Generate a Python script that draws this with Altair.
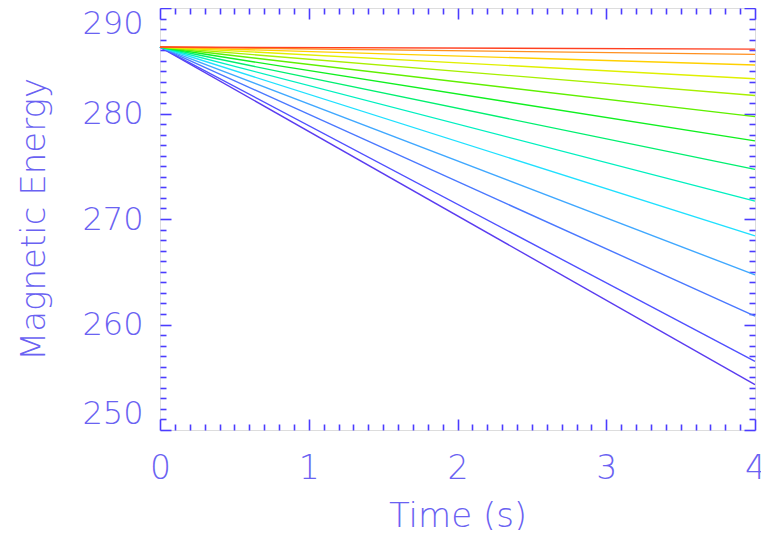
import altair as alt
import pandas as pd

# Data
times = [0.0, 4.0]
start_value = 286.3
end_values = [254.3, 256.5, 260.8, 264.7, 268.4, 271.7, 274.7,
              277.4, 279.7, 281.7, 283.3, 284.6, 285.6, 286.1]
line_colors = ["#5a3cf0", "#5050ff", "#4a78ff", "#40a8ff", "#20e0ff", "#00f0c0",
               "#00f070", "#10f020", "#60f000", "#a8f000", "#e0f000", "#ffd000",
               "#ff9020", "#ff4020"]
series_names = [f"s{i:02d}" for i in range(len(end_values))]

x_major = [0, 1, 2, 3, 4]
x_minor = [i / 10 for i in range(41) if i % 10 != 0]
y_major = [250, 260, 270, 280, 290]
y_minor = [v for v in range(250, 291) if v % 10 != 0]

rows = []
for name, ev in zip(series_names, end_values):
    rows.append({"series": name, "t": times[0], "energy": start_value})
    rows.append({"series": name, "t": times[1], "energy": ev})
df = pd.DataFrame(rows)

AX = "#4b3cff"
TXT = "#6a62f2"
FONT = "DejaVu Sans"

xscale = alt.Scale(domain=[0, 4], nice=False, zero=False)
yscale = alt.Scale(domain=[250, 290], nice=False, zero=False)


def tick_axis(orient, values, size):
    return alt.Axis(orient=orient, values=values, tickSize=size, offset=-size,
                    labels=False, domain=False, title=None, ticks=True,
                    tickColor=AX, tickWidth=1.6, grid=False)


lines = alt.Chart(df).mark_line(strokeWidth=1.4).encode(
    x=alt.X("t:Q", scale=xscale,
            axis=alt.Axis(orient="bottom", values=x_major, ticks=False, domain=False,
                          grid=False, title="Time  (s)", labelFont=FONT, labelFontSize=33,
                          labelFontWeight=200, labelFlush=False,
                          labelColor=TXT, labelPadding=22, titleFont=FONT, titleFontSize=34,
                          titleFontWeight=200, titleColor=TXT, titlePadding=14,
                          format="d")),
    y=alt.Y("energy:Q", scale=yscale,
            axis=alt.Axis(orient="left", values=y_major, ticks=False, domain=False,
                          grid=False, title="Magnetic  Energy", labelFont=FONT,
                          labelFontSize=32, labelFontWeight=200, labelColor=TXT,
                          labelPadding=17, labelFlush=True, titleFont=FONT,
                          titleFontSize=34, titleFontWeight=200, titleColor=TXT,
                          titlePadding=30, format="d")),
    color=alt.Color("series:N", scale=alt.Scale(domain=series_names, range=line_colors),
                    legend=None),
    detail="series:N",
)


def axis_layer(xax, yax):
    return alt.Chart(df).mark_point(opacity=0).encode(
        x=alt.X("t:Q", scale=xscale, axis=xax),
        y=alt.Y("energy:Q", scale=yscale, axis=yax),
    )


chart = alt.layer(
    lines,
    axis_layer(tick_axis("bottom", x_major, 11), tick_axis("left", y_major, 11)),
    axis_layer(tick_axis("bottom", x_minor, 6), tick_axis("left", y_minor, 6)),
    axis_layer(tick_axis("top", x_major, 11), tick_axis("right", y_major, 11)),
    axis_layer(tick_axis("top", x_minor, 6), tick_axis("right", y_minor, 6)),
).resolve_axis(x="independent", y="independent").properties(
    width=595, height=422,
    autosize=alt.AutoSizeParams(type="none"),
    padding={"left": 152, "top": 0, "right": 6, "bottom": 100},
).configure_view(stroke=AX, strokeWidth=1.5).configure(background="white")

chart.save("out.html", embed_options={"renderer": "svg", "actions": False})
